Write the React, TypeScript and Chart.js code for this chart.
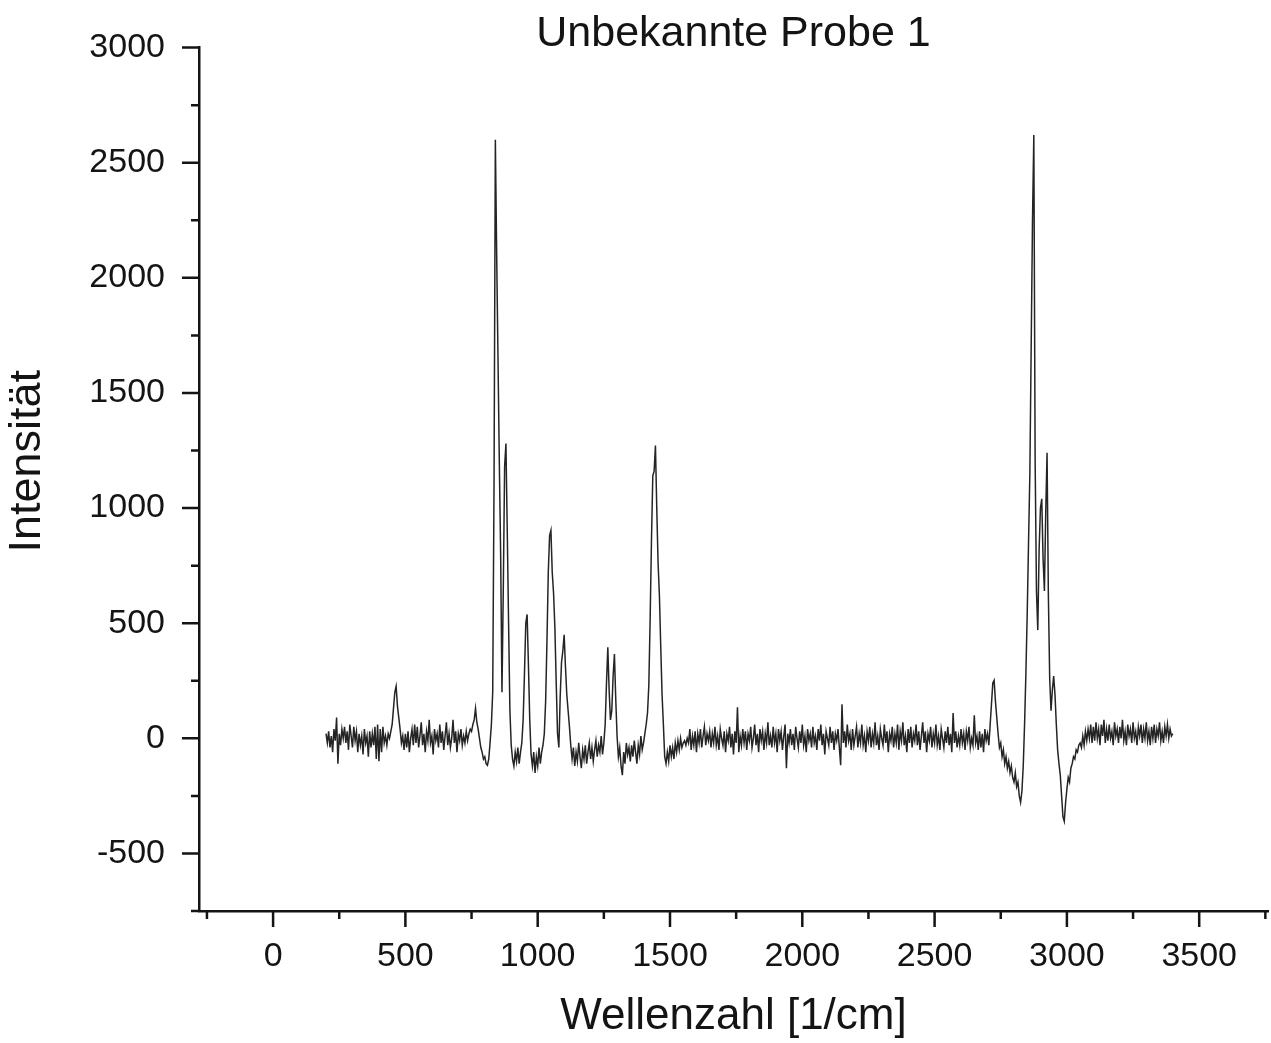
import { useEffect, useRef } from "react";
import { Chart, registerables } from "chart.js";

Chart.register(...registerables);

// Spectrometer sampling grid (cm^-1)
const FIRST_WAVENUMBER = 200;
const WAVENUMBER_STEP = 5;

// Intensities, in order of increasing wavenumber
const band200to445 = [
  20, -20, 30, -40, 10, -60, 40, -10, 90, -110,
  20, -30, 40, 0, 50, -20, 30, -50, 60, 10,
  -40, 50, -10, 30, -60, 20, -30, 10, -70, 40,
  -20, 10, -80, 30, -40, 20, -30, 50, -90, 60,
  -100, 40, -60, 50, -20, 10, -30, 20, 0, 30,
];
const band450to745 = [
  60, 130, 200, 226, 140, 90, 40, -20, 10, -50,
  20, -40, 30, -60, 0, 40, -30, 60, -20, 50,
  -40, 10, 70, -30, 20, -60, 30, -10, 80, -20,
  10, -70, 40, -10, 20, -40, 60, -20, 30, -50,
  10, 70, -30, 20, -40, 0, 80, -20, 30, -60,
  20, -10, 40, -30, 10, -20, 30, -10, 20, 40,
];
const band750to1045 = [
  30, 60, 80, 130, 70, 40, 0, -40, -60, -90,
  -80, -110, -117, -90, -20, 60, 200, 1100, 2600, 2100,
  1650, 1200, 800, 200, 650, 1180, 1280, 900, 500, 120,
  -30, -90, -120, -60, -100, -40, -110, -60, -20, 80,
  280, 500, 538, 320, 80, -70, -120, -60, -150, -80,
  -120, -40, -110, -60, -30, 20, 160, 420, 720, 880,
];
const band1050to1345 = [
  903, 720, 630, 480, 240, 20, -40, 180, 330, 380,
  450, 310, 190, 120, 50, -30, -90, -40, -120, -60,
  -100, -20, -80, -130, -50, -90, -30, -110, -60, -20,
  -90, -40, -100, -50, -10, -80, -30, -60, 10, -70,
  -20, 60, 240, 395, 210, 80, 120, 270, 366, 170,
  10, -80, -40, -120, -160, -60, -110, -20, -70, -40,
];
const band1350to1645 = [
  -100, -30, -80, -10, -60, -110, -30, -70, 10, -50,
  -20, 20, 60, 110, 230, 520, 860, 1140, 1160, 1272,
  1000, 760, 620, 400, 190, 60, -80, -110, -60, -100,
  -30, -80, -40, -90, -20, -60, -10, -50, 0, -40,
  -20, -10, -30, 0, -20, 40, -50, 10, -30, 30,
  -60, 20, -20, 40, -40, 10, 50, -30, 20, -10,
];
const band1650to1945 = [
  30, -40, 20, -20, 50, -30, 10, -50, 40, 0,
  -30, 30, -60, 20, -10, 50, -40, 20, -70, 30,
  -20, 135, -60, 10, -30, 40, -20, 30, -50, 20,
  -10, 50, -40, 0, 60, -30, 20, -60, 40, -10,
  30, -50, 20, -20, 70, -30, 10, -40, 50, -20,
  20, -60, 40, -10, 30, -50, 10, 60, -130, 20,
];
const band1950to2245 = [
  -20, 40, -30, 20, -50, 50, 0, -40, 30, -20,
  60, -30, 10, -60, 40, -10, 20, -40, 50, -20,
  10, -50, 40, -10, 60, -30, 20, -70, 30, 0,
  -30, 50, -20, 30, -50, 20, -10, 40, -40, -117,
  148, -20, 30, -40, 60, -10, 20, -50, 40, -30,
  10, 50, -40, 20, -20, 60, -30, 10, -60, 30,
];
const band2250to2545 = [
  -10, 50, -40, 20, -20, 70, -30, 10, -50, 40,
  0, -30, 60, -20, 30, -60, 20, -10, 50, -40,
  20, -20, 60, -50, 30, -10, 70, -30, 10, -60,
  40, -20, 50, -40, 20, -10, 60, -30, 30, -50,
  10, 70, -20, 30, -60, 20, -10, 50, -40, 20,
  -20, 60, -30, 10, -50, 40, 0, -40, 30, -20,
];
const band2550to2845 = [
  50, -30, 20, -60, 110, -20, 30, -40, 10, -30,
  40, -20, 20, -50, 30, -10, 50, -40, 0, -30,
  100, -20, 10, -50, 30, -40, 20, -60, 40, -10,
  20, -30, 60, 150, 240, 252, 160, 90, 20, -40,
  -20, -80, -50, -110, -80, -130, -100, -150, -120, -170,
  -190, -150, -210, -190, -250, -278, -230, -120, 60, 280,
];
const band2850to3145 = [
  540, 850, 1150, 1700, 2250, 2620, 1200, 640, 470, 820,
  1000, 1040, 780, 640, 980, 1240, 620, 260, 120, 210,
  270, 190, 60, -50, -110, -160, -250, -340, -360, -280,
  -220, -170, -190, -130, -110, -80, -90, -50, -60, -30,
  -20, -40, 10, -30, 30, -10, 40, 0, 60, -20,
  50, -10, 70, 0, 40, -30, 60, 10, 80, -20,
];
const band3150to3400 = [
  40, -10, 60, 0, 30, -30, 70, 10, 40, -20,
  50, 0, 80, -10, 30, -30, 60, 10, 40, -20,
  70, 0, 30, -30, 50, 10, 60, -20, 40, 0,
  70, -10, 30, -30, 50, 0, 60, -20, 40, 10,
  70, -10, 30, -20, 50, 10, 60, 0, 40, 10,
  20,
];

// Axis ticks (minor every 250, labelled every 500) and texts
const X_TICKS = [
  -250, 0, 250, 500, 750, 1000, 1250, 1500, 1750, 2000, 2250, 2500, 2750,
  3000, 3250, 3500, 3750,
];
const Y_TICKS = [
  -750, -500, -250, 0, 250, 500, 750, 1000, 1250, 1500, 1750, 2000, 2250,
  2500, 2750, 3000,
];
const X_MIN = -280;
const X_MAX = 3760;
const Y_MIN = -750;
const Y_MAX = 3000;
const LABEL_STEP = 500;
const TITLE = "Unbekannte Probe 1";
const X_TITLE = "Wellenzahl [1/cm]";
const Y_TITLE = "Intensität";

const FONT = "'Liberation Sans', Arial, Helvetica, sans-serif";
const INK = "#141414";

const intensities = [
  ...band200to445,
  ...band450to745,
  ...band750to1045,
  ...band1050to1345,
  ...band1350to1645,
  ...band1650to1945,
  ...band1950to2245,
  ...band2250to2545,
  ...band2550to2845,
  ...band2850to3145,
  ...band3150to3400,
];
const spectrum = intensities.map((y, i) => ({
  x: FIRST_WAVENUMBER + i * WAVENUMBER_STEP,
  y,
}));

const isMajor = (v: number) => Math.abs(v % LABEL_STEP) < 1e-6;

const axisDecor = {
  id: "axisDecor",
  afterDraw(chart: any) {
    const { ctx, chartArea } = chart;
    const xs = chart.scales.x;
    const ys = chart.scales.y;
    ctx.save();
    ctx.strokeStyle = INK;
    ctx.lineWidth = 2.5;
    ctx.beginPath();
    xs.ticks.forEach((t: any) => {
      const p = xs.getPixelForValue(t.value);
      const len = isMajor(t.value) ? 16 : 8;
      ctx.moveTo(p, xs.top);
      ctx.lineTo(p, xs.top + len);
    });
    ys.ticks.forEach((t: any) => {
      const p = ys.getPixelForValue(t.value);
      const len = isMajor(t.value) ? 17 : 8;
      ctx.moveTo(ys.right, p);
      ctx.lineTo(ys.right - len, p);
    });
    ctx.stroke();

    // Y axis title, set slightly above the middle of the plot as in the scan
    ctx.fillStyle = INK;
    ctx.font = `45px ${FONT}`;
    ctx.textAlign = "center";
    ctx.textBaseline = "middle";
    ctx.translate(ys.left + 28, (chartArea.top + chartArea.bottom) / 2 - 18);
    ctx.rotate(-Math.PI / 2);
    ctx.fillText(Y_TITLE, 0, 0);
    ctx.restore();
  },
};

export default function App() {
  const canvasRef = useRef<HTMLCanvasElement | null>(null);

  useEffect(() => {
    if (!canvasRef.current) return;
    const chart = new Chart(canvasRef.current, {
      type: "line",
      data: {
        datasets: [
          {
            label: TITLE,
            data: spectrum,
            borderColor: "#242424",
            borderWidth: 1.5,
            pointRadius: 0,
            tension: 0,
            fill: false,
          },
        ],
      },
      plugins: [axisDecor],
      options: {
        animation: false,
        responsive: true,
        maintainAspectRatio: false,
        layout: { padding: { left: 0, right: 3, top: 0, bottom: 0 } },
        plugins: {
          legend: { display: false },
          tooltip: { enabled: false },
          title: {
            display: true,
            fullSize: false,
            text: TITLE,
            color: INK,
            font: { family: FONT, size: 43, weight: "normal" },
            padding: { top: 8, bottom: -12 },
          },
        },
        scales: {
          x: {
            type: "linear",
            min: X_MIN,
            max: X_MAX,
            afterFit: (scale: any) => {
              scale.height = 132;
            },
            afterBuildTicks: (scale: any) => {
              scale.ticks = X_TICKS.map((value) => ({ value }));
            },
            ticks: {
              autoSkip: false,
              maxRotation: 0,
              padding: 0,
              color: INK,
              font: { family: FONT, size: 34 },
              callback: (v: any) => (isMajor(Number(v)) ? String(v) : ""),
            },
            grid: {
              display: true,
              drawOnChartArea: false,
              drawTicks: true,
              tickLength: 25,
              color: "rgba(0,0,0,0)",
            },
            border: { display: true, color: INK, width: 2.5 },
            title: {
              display: true,
              text: X_TITLE,
              color: INK,
              font: { family: FONT, size: 44 },
              padding: { top: 0, bottom: 0 },
            },
          },
          y: {
            type: "linear",
            min: Y_MIN,
            max: Y_MAX,
            afterFit: (scale: any) => {
              scale.width = 199;
            },
            afterBuildTicks: (scale: any) => {
              scale.ticks = Y_TICKS.map((value) => ({ value }));
            },
            ticks: {
              autoSkip: false,
              padding: 17,
              color: INK,
              font: { family: FONT, size: 34 },
              callback: (v: any) => (isMajor(Number(v)) ? String(v) : ""),
            },
            grid: {
              display: true,
              drawOnChartArea: false,
              drawTicks: true,
              tickLength: 17,
              color: "rgba(0,0,0,0)",
            },
            border: { display: true, color: INK, width: 2.5 },
            title: { display: false },
          },
        },
      },
    });
    return () => chart.destroy();
  }, []);

  return (
    <div
      style={{
        position: "absolute",
        left: 0,
        top: 0,
        width: 1271,
        height: 1043,
        background: "#fff",
      }}
    >
      <canvas ref={canvasRef} style={{ display: "block" }} />
    </div>
  );
}
